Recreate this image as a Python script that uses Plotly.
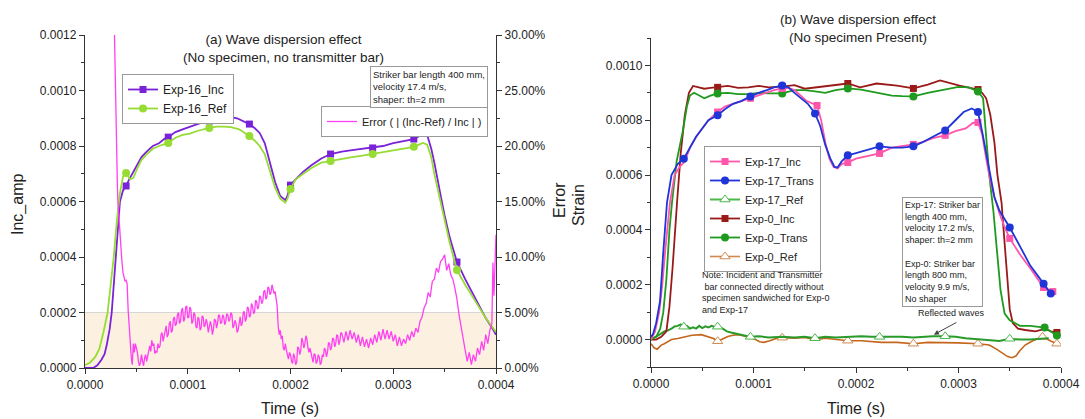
import plotly.graph_objects as go

US = 1e-6  # time values below are in microseconds

# ---------------- Panel (a) data ----------------
inc16 = [(0, 0), (8, 0), (12, 0.00001), (16, 0.00003), (19, 0.00005), (21, 0.00008), (24, 0.00014),
         (26, 0.0002), (28, 0.0003), (30, 0.0004), (32, 0.0005), (34, 0.0006), (37, 0.00064),
         (40, 0.000656), (43, 0.00068), (46, 0.0007), (50, 0.00073), (55, 0.00076), (60, 0.00078),
         (66, 0.0008), (72, 0.00081), (77, 0.000825), (81, 0.000832), (88, 0.00085), (95, 0.00086),
         (102, 0.00087), (110, 0.00088), (115, 0.000885), (121, 0.00089), (128, 0.000895),
         (135, 0.0009), (141, 0.000905), (148, 0.0009), (155, 0.000888), (160, 0.000879),
         (165, 0.000865), (170, 0.000847), (175, 0.00081), (180, 0.00074), (185, 0.00067),
         (190, 0.00062), (195, 0.000605), (197, 0.00062), (200, 0.000659), (205, 0.00068),
         (212, 0.000706), (220, 0.00073), (230, 0.000755), (239, 0.000771), (250, 0.00078),
         (260, 0.000785), (270, 0.00079), (280, 0.000793), (290, 0.0008), (300, 0.00081),
         (310, 0.000818), (320, 0.000825), (325, 0.000835), (329, 0.000843), (333, 0.00084),
         (337, 0.00079), (340, 0.00074), (344, 0.00067), (347, 0.000605), (350, 0.00055),
         (355, 0.00047), (362, 0.000382), (370, 0.00032), (380, 0.00025), (390, 0.00018),
         (397, 0.00014), (400, 0.00012)]
inc16_markers = [40, 81, 121, 160, 200, 239, 280, 320, 362]

ref16 = [(0, 0.00001), (5, 0.00002), (10, 0.00004), (14, 0.00007), (18, 0.00013), (22, 0.0002),
         (25, 0.0003), (28, 0.0004), (31, 0.00053), (34, 0.00063), (37, 0.00069), (40, 0.000703),
         (44, 0.00068), (47, 0.000685), (51, 0.00072), (55, 0.00075), (60, 0.00077), (66, 0.00079),
         (72, 0.0008), (81, 0.000811), (88, 0.00083), (95, 0.00084), (102, 0.000845),
         (110, 0.000855), (121, 0.000865), (128, 0.00087), (135, 0.00087), (142, 0.000868),
         (150, 0.00086), (160, 0.000836), (165, 0.00082), (170, 0.0008), (175, 0.00077),
         (180, 0.00071), (185, 0.00065), (190, 0.00061), (195, 0.000596), (197, 0.00061),
         (200, 0.000645), (205, 0.00068), (212, 0.0007), (220, 0.00072), (230, 0.00074),
         (239, 0.000746), (250, 0.000755), (260, 0.00076), (270, 0.000765), (280, 0.000771),
         (290, 0.000778), (300, 0.000785), (310, 0.00079), (320, 0.000797), (325, 0.000805),
         (329, 0.000811), (333, 0.000805), (337, 0.00076), (340, 0.0007), (344, 0.00063),
         (347, 0.00058), (350, 0.00053), (355, 0.00045), (362, 0.000353), (370, 0.0003),
         (380, 0.00024), (390, 0.00018), (400, 0.00013)]
ref16_markers = [40, 81, 121, 160, 200, 239, 280, 320, 362]

# Error ( | (Inc-Ref) / Inc | ), percent
error16 = [(28.5, 31), (29, 28), (29.5, 25), (30, 22), (30.5, 20), (31, 18), (31.5, 16.5), (32, 15),
           (33, 13.5), (34, 12), (35, 10.5), (36, 9.5), (37, 8.6), (38, 8.2), (39, 7.8), (40, 7.9),
           (41, 7.6), (42, 5.2), (43, 3.5), (44, 2), (45, 1), (46, 0.3), (47, 2.2), (48, 1.4),
           (49, 2.2), (50, 1.8), (51, 1.4), (52, 0.6), (53, 0.2), (54, 0.5), (55, 1.2), (56, 0.6),
           (57, 0.2), (58, 0.9), (59, 1.2), (60, 0.6), (61, 1.0), (62, 1.6), (63, 2.0), (64, 1.5),
           (65, 2.5), (66, 2.0), (67, 2.2), (68, 1.3), (69, 1.5), (70, 1.4), (71, 2.2), (72, 1.8),
           (73, 2.0), (74, 3.0), (75, 3.2), (76, 2.4), (77, 2.8), (78, 3.4), (79, 3.8), (80, 2.8),
           (81, 3.0), (82, 4.0), (83, 4.2), (84, 3.2), (85, 3.4), (86, 4.4), (87, 4.6), (88, 3.8),
           (89, 4.0), (90, 4.8), (91, 5.0), (92, 4.0), (93, 4.2), (94, 5.2), (95, 5.4), (96, 4.2),
           (97, 4.4), (98, 5.5), (99, 5.6), (100, 4.5), (101, 4.6), (102, 5.5), (103, 5.3),
           (104, 4.0), (105, 4.2), (106, 5.0), (107, 4.8), (108, 3.7), (109, 3.6), (110, 4.6),
           (111, 4.4), (112, 3.4), (113, 3.6), (114, 4.7), (115, 4.6), (116, 3.7), (117, 3.9),
           (118, 4.4), (119, 4.0), (120, 3.2), (121, 3.6), (122, 4.2), (123, 3.8), (124, 3.0),
           (125, 3.5), (126, 4.4), (127, 4.3), (128, 3.6), (129, 4.0), (130, 4.8), (131, 4.7),
           (132, 4.0), (133, 4.1), (134, 4.8), (135, 4.6), (136, 3.9), (137, 4.2), (138, 4.9),
           (139, 4.8), (140, 4.2), (141, 4.4), (142, 5.0), (143, 4.8), (144, 3.6), (145, 3.8),
           (146, 4.3), (147, 4.0), (148, 3.2), (149, 3.4), (150, 4.3), (151, 4.6), (152, 3.8),
           (153, 4.0), (154, 5.0), (155, 5.1), (156, 4.2), (157, 4.4), (158, 5.5), (159, 5.4),
           (160, 4.6), (161, 4.7), (162, 5.8), (163, 5.6), (164, 4.9), (165, 5.0), (166, 6.1),
           (167, 6.0), (168, 5.3), (169, 5.5), (170, 6.5), (171, 6.4), (172, 5.8), (173, 6.0),
           (174, 6.9), (175, 7.0), (176, 6.2), (177, 6.4), (178, 7.3), (179, 7.2), (180, 6.6),
           (181, 6.8), (182, 7.5), (183, 7.2), (184, 6.7), (185, 6.9), (186, 6.4), (187, 5.6),
           (188, 3.8), (189, 3.0), (190, 3.4), (191, 2.6), (192, 2.9), (193, 1.8), (194, 1.6),
           (195, 2.2), (196, 1.6), (197, 1.0), (198, 0.8), (199, 1.4), (200, 1.2), (201, 0.6),
           (202, 0.4), (203, 1.3), (204, 1.0), (205, 0.3), (206, 0.5), (207, 1.9), (208, 1.8),
           (209, 1.2), (210, 1.6), (211, 2.7), (212, 2.4), (213, 1.8), (214, 2.2), (215, 2.9),
           (216, 2.6), (217, 1.8), (218, 1.4), (219, 1.8), (220, 1.4), (221, 0.8), (222, 0.5),
           (223, 1.3), (224, 1.2), (225, 0.4), (226, 0.6), (227, 1.2), (228, 1.0), (229, 0.3),
           (230, 0.5), (231, 1.2), (232, 1.0), (233, 1.8), (234, 1.6), (235, 1.0), (236, 1.4),
           (237, 2.3), (238, 2.2), (239, 1.6), (240, 1.9), (241, 2.7), (242, 2.6), (243, 1.9),
           (244, 2.2), (245, 3.0), (246, 2.9), (247, 2.1), (248, 2.4), (249, 3.2), (250, 3.1),
           (252, 2.3), (254, 3.3), (256, 2.5), (258, 3.4), (260, 2.6), (262, 3.2), (264, 2.3),
           (266, 3.0), (268, 2.0), (270, 2.8), (272, 1.9), (274, 2.6), (276, 1.8), (278, 2.7),
           (280, 2.1), (282, 3.0), (284, 2.3), (286, 3.3), (288, 2.5), (290, 3.5), (292, 2.6),
           (294, 3.4), (296, 2.6), (298, 3.3), (300, 2.4), (302, 3.0), (304, 2.0), (306, 2.8),
           (308, 2.0), (310, 2.6), (312, 2.2), (314, 3.0), (316, 2.5), (318, 3.3), (320, 2.8),
           (322, 3.6), (324, 3.2), (326, 4.2), (328, 4.6), (330, 5.4), (332, 5.8), (334, 6.8),
           (336, 6.4), (338, 7.8), (340, 8.0), (342, 9.0), (344, 8.6), (346, 9.6), (348, 9.8),
           (350, 10.2), (352, 8.8), (354, 9.4), (356, 8.4), (358, 8.0), (360, 7.2), (362, 6.2),
           (364, 4.8), (366, 3.6), (368, 2.6), (370, 1.6), (372, 0.6), (374, 1.4), (376, 0.3),
           (378, 1.2), (380, 0.6), (382, 1.8), (384, 1.2), (386, 2.4), (388, 1.6), (390, 3.0),
           (392, 2.2), (394, 3.4), (396, 4.0), (397, 9.5), (398, 6.5), (399, 10.5), (400, 12)]

# ---------------- Panel (b) data ----------------
inc17 = [(0, 0.0), (4, 0.00003), (8, 0.0001), (11, 0.0002), (14, 0.00033), (18.5, 0.0005),
         (23, 0.0006), (28, 0.00063), (33, 0.00065), (38, 0.0007), (44, 0.00074), (50, 0.00077),
         (56, 0.0008), (65, 0.00083), (72, 0.00085), (80, 0.00086), (88, 0.00087), (97, 0.00088),
         (105, 0.00089), (113, 0.0009), (120, 0.00091), (128, 0.000916), (134, 0.000918),
         (140, 0.00091), (146, 0.00089), (152, 0.00087), (162, 0.000854), (166, 0.0008),
         (170, 0.00072), (174, 0.00066), (178, 0.00063), (182, 0.000624), (186, 0.00064),
         (192, 0.000646), (200, 0.00066), (210, 0.000668), (223, 0.000679), (235, 0.0007),
         (245, 0.000705), (256, 0.000712), (265, 0.00072), (275, 0.000735), (287, 0.000745),
         (297, 0.00076), (307, 0.00077), (314, 0.00079), (319, 0.000792), (323, 0.00075),
         (327, 0.00066), (331, 0.00058), (335, 0.00052), (340, 0.00046), (345, 0.00041),
         (350, 0.000369), (360, 0.00031), (370, 0.00026), (383, 0.00019), (392, 0.000175)]
inc17_markers = [65, 97, 128, 162, 192, 223, 256, 287, 319, 350, 383, 392]

trans17 = [(0, 0.00001), (2, 0.00002), (5, 0.00006), (8.8, 0.00014), (12, 0.00032), (15.6, 0.0005),
           (20, 0.0006), (26, 0.00064), (32, 0.00066), (38, 0.0007), (44, 0.00074), (50, 0.00077),
           (56, 0.0008), (65, 0.000818), (72, 0.00084), (80, 0.00086), (88, 0.00087),
           (97, 0.000887), (105, 0.0009), (113, 0.00091), (120, 0.00092), (128, 0.000927),
           (134, 0.00092), (140, 0.0009), (147, 0.00088), (153, 0.00086), (160, 0.000825),
           (165, 0.00078), (170, 0.00071), (175, 0.00066), (179, 0.00063), (182, 0.000628),
           (186, 0.00065), (192, 0.000672), (200, 0.00068), (210, 0.00069), (223, 0.000705),
           (235, 0.0007), (245, 0.0007), (256, 0.000705), (265, 0.00072), (275, 0.00074),
           (287, 0.000763), (297, 0.0008), (305, 0.00083), (313, 0.000843), (319, 0.00083),
           (323, 0.00076), (327, 0.00068), (331, 0.0006), (335, 0.00052), (340, 0.00047),
           (345, 0.00044), (350, 0.000409), (360, 0.00034), (370, 0.00027), (383, 0.000204),
           (390, 0.000168)]
trans17_markers = [32, 65, 97, 128, 160, 192, 223, 256, 287, 319, 350, 383, 390]

ref17 = [(0, 0.0), (5, 0.00001), (9, 0.00002), (13, 0.00003), (16, 0.000033), (20, 0.00004),
         (23, 0.000048), (26, 0.00005), (29, 0.000055), (32, 0.000047), (35, 0.00005),
         (38, 0.00004), (41, 0.000045), (44, 0.00004), (47, 0.00005), (50, 0.000042),
         (53, 0.000048), (56, 0.000044), (59, 0.00005), (62, 0.000046), (65, 0.000047),
         (70, 0.00004), (74, 0.00003), (78, 0.000026), (84, 0.00002), (91, 0.000015),
         (97, 0.00001), (105, 0.000012), (115, 0.000008), (128, 0.00001), (140, 0.000008),
         (150, 0.00001), (160, 0.000005), (170, 0.00001), (180, 0.000008), (192, 0.00001),
         (205, 0.000012), (215, 0.00001), (223, 0.00001), (235, 0.000012), (245, 0.00001),
         (256, 0.000008), (265, 0.00001), (275, 0.000012), (287, 0.000012), (297, 0.00001),
         (307, 0.000005), (319, 0.000002), (330, 0.0), (340, -0.000005), (350, 0.000003),
         (360, 0.0), (370, 0.0), (383, 0.000005), (388, 0.000005)]
ref17_markers = [32, 65, 97, 160, 223, 287, 350]

inc0 = [(0, 0.0), (5, 0.0), (10, 0.00001), (15, 0.00003), (18, 0.00012), (21, 0.00026),
        (25.4, 0.0005), (29, 0.00068), (33, 0.00082), (37, 0.0009), (41, 0.000925), (46, 0.00092),
        (52, 0.000915), (58, 0.000918), (65, 0.00092), (75, 0.000925), (85, 0.000918),
        (95, 0.00092), (105, 0.000925), (115, 0.00092), (128, 0.000923), (140, 0.000928),
        (150, 0.000915), (160, 0.00092), (175, 0.000925), (192, 0.000934), (204, 0.00092),
        (220, 0.000934), (240, 0.000926), (256, 0.000916), (270, 0.00093), (282, 0.000945),
        (301, 0.000926), (312, 0.000918), (319, 0.000912), (323, 0.0009), (327, 0.00088),
        (331, 0.00082), (335, 0.00072), (338, 0.0006), (342, 0.0005), (344, 0.0004),
        (347, 0.00026), (350, 0.00011), (353, 0.00006), (358, 0.00004), (365, 0.000035),
        (375, 0.00003), (385, 0.00004), (390, 0.00003), (396, 0.000026)]
inc0_markers = [65, 128, 192, 256, 319, 396]

trans0 = [(0, 0.0), (5, 0.00001), (9, 0.00004), (12, 0.0001), (15, 0.00022), (18, 0.0004),
          (20.5, 0.0005), (25, 0.00065), (31, 0.00076), (35, 0.00085), (38, 0.00089), (42, 0.0009),
          (47, 0.00089), (52, 0.00088), (58, 0.00089), (65, 0.000898), (75, 0.0009),
          (85, 0.000895), (95, 0.000895), (105, 0.0009), (115, 0.000898), (128, 0.000898),
          (140, 0.00091), (150, 0.00091), (160, 0.000905), (170, 0.0009), (180, 0.00091),
          (192, 0.000916), (205, 0.000912), (220, 0.0009), (235, 0.00089), (245, 0.000888),
          (256, 0.000887), (270, 0.0009), (285, 0.00091), (300, 0.000922), (310, 0.00092),
          (319, 0.000905), (324, 0.00088), (327, 0.00075), (330, 0.0006), (334, 0.00047),
          (338, 0.0003), (341, 0.00018), (345, 0.000095), (350, 0.00007), (360, 0.00005),
          (370, 0.00005), (384, 0.000044), (396, 0.000015)]
trans0_markers = [65, 128, 192, 256, 319, 384, 396]

ref0 = [(0, -0.000015), (3, -0.00003), (6, -0.000035), (10, -0.00002), (13, -0.000015),
        (20, 0.0), (26, 0.000004), (32, 0.00001), (40, 0.000016), (49, 0.000018), (55, 0.00001),
        (61, 0.000004), (65, -0.000006), (70, 0.000004), (75, 0.000011), (80, 0.000016),
        (85, 0.000018), (90, 0.000014), (96, 0.000008), (102, 0.0), (106, -0.000008),
        (110, -0.00001), (116, -0.000004), (124, 0.000007), (128, 0.000007), (140, 0.000005),
        (150, 0.000008), (160, 0.0), (170, 0.000005), (180, 0.0), (192, -0.000004),
        (205, -0.000004), (215, -0.000008), (225, -0.00001), (240, -0.00001), (256, -0.000015),
        (270, -0.00001), (285, -0.00001), (300, -0.000012), (319, -0.000015), (330, -0.00002),
        (337, -0.000035), (343, -0.00005), (348, -0.000062), (352, -0.000066), (356, -0.00006),
        (360, -0.00004), (365, -0.00002), (372, -0.000005), (382, 0.00001), (390, -0.000005),
        (396, -0.000015)]
ref0_markers = [65, 128, 192, 256, 319, 382, 396]

W, H = 1085, 419
FONT = "Arial, Liberation Sans, sans-serif"

fig = go.Figure()


def add_series(data, mk_times, name, color, symbol, xa, ya, legend, rank, msize=7,
               open_marker=False, width=1.8, marker_color=None):
    t = [p[0] for p in data]
    v = [p[1] for p in data]
    x = [ti * US for ti in t]
    fig.add_trace(go.Scatter(x=x, y=v, mode="lines", line=dict(color=color, width=width),
                             xaxis=xa, yaxis=ya, showlegend=False, hoverinfo="skip"))
    idx = [t.index(m) for m in mk_times]
    mcol = marker_color or color
    if open_marker:
        mk = dict(symbol=symbol, size=msize, color="white", line=dict(color=mcol, width=1))
    else:
        mk = dict(symbol=symbol, size=msize, color=mcol, line=dict(color=mcol, width=0))
    fig.add_trace(go.Scatter(x=[x[i] for i in idx], y=[v[i] for i in idx], mode="markers",
                             marker=mk, xaxis=xa, yaxis=ya, showlegend=False, hoverinfo="skip"))
    fig.add_trace(go.Scatter(x=[None], y=[None], mode="lines+markers", name=name,
                             line=dict(color=mcol, width=width), marker=mk,
                             xaxis=xa, yaxis=ya, legend=legend, legendrank=rank))


# Panel (a)
err_t = [p[0] * US for p in error16]
err_v = [p[1] for p in error16]
fig.add_trace(go.Scatter(x=err_t, y=err_v, mode="lines", name="Error ( | (Inc-Ref) / Inc | )",
                         line=dict(color="#ff40f2", width=1.3), xaxis="x", yaxis="y2",
                         legend="legend2", hoverinfo="skip"))
add_series(inc16, inc16_markers, "Exp-16_Inc", "#7a22d8", "square", "x", "y", "legend", 1, msize=7)
add_series(ref16, ref16_markers, "Exp-16_Ref", "#96dc34", "circle", "x", "y", "legend", 2, msize=8)

# Panel (b)
add_series(ref0, ref0_markers, "Exp-0_Ref", "#c4661c", "triangle-up", "x2", "y3", "legend3", 6,
           msize=9, open_marker=True, width=1.6, marker_color="#d08a50")
add_series(ref17, ref17_markers, "Exp-17_Ref", "#2a9a2a", "triangle-up", "x2", "y3", "legend3", 3,
           msize=9, open_marker=True, width=2.0, marker_color="#4cb84c")
add_series(inc0, inc0_markers, "Exp-0_Inc", "#9a1a1a", "square", "x2", "y3", "legend3", 4, msize=7)
add_series(trans0, trans0_markers, "Exp-0_Trans", "#1e9a1e", "circle", "x2", "y3", "legend3", 5,
           msize=8)
add_series(inc17, inc17_markers, "Exp-17_Inc", "#ff55aa", "square", "x2", "y3", "legend3", 1,
           msize=7)
add_series(trans17, trans17_markers, "Exp-17_Trans", "#1f35d8", "circle", "x2", "y3", "legend3", 2,
           msize=8)

axis_common = dict(showline=True, linecolor="#333", linewidth=1.3, ticks="outside", ticklen=5,
                   tickwidth=1.2, tickcolor="#333", showgrid=False, zeroline=False,
                   automargin=False,
                   tickfont=dict(size=12, color="#222", family=FONT),
                   minor=dict(ticks="outside", ticklen=3, tickcolor="#333", tickwidth=1))

fig.update_layout(
    width=W, height=H, margin=dict(l=0, r=0, t=0, b=0, autoexpand=False),
    paper_bgcolor="white", plot_bgcolor="rgba(0,0,0,0)",
    font=dict(family=FONT, color="#222"),
    xaxis=dict(domain=[85 / W, 496 / W], anchor="y", range=[0, 0.0004], dtick=0.0001,
               tickformat=".4f", **{**axis_common, "minor": dict(axis_common["minor"], dtick=0.00005)}),
    yaxis=dict(domain=[1 - 368 / H, 1 - 35 / H], anchor="x", range=[0, 0.0012], dtick=0.0002,
               tickformat=".4f", **{**axis_common, "minor": dict(axis_common["minor"], dtick=0.0001)}),
    yaxis2=dict(overlaying="y", side="right", anchor="x", range=[0, 30], dtick=5,
                tickformat=".2f", ticksuffix="%",
                **{**axis_common, "minor": dict(axis_common["minor"], dtick=2.5)}),
    xaxis2=dict(domain=[651 / W, 1061 / W], anchor="y3", range=[0, 0.0004], dtick=0.0001,
                tickformat=".4f", **{**axis_common, "minor": dict(axis_common["minor"], dtick=0.00005)}),
    yaxis3=dict(domain=[1 - 367 / H, 1 - 38 / H], anchor="x2", range=[-0.0001, 0.0011],
                tick0=0, dtick=0.0002, tickformat=".4f",
                **{**axis_common, "minor": dict(axis_common["minor"], tick0=0.0001, dtick=0.0002)}),
    legend=dict(x=122 / W, y=1 - 74 / H, xanchor="left", yanchor="top", bgcolor="white",
                bordercolor="#999", borderwidth=1, font=dict(size=12, family=FONT, color="#222"),
                tracegroupgap=0, traceorder="normal"),
    legend2=dict(x=488 / W, y=1 - 106 / H, xanchor="right", yanchor="top", bgcolor="white",
                 bordercolor="#999", borderwidth=1, font=dict(size=11, family=FONT, color="#222")),
    legend3=dict(x=704 / W, y=1 - 146 / H, xanchor="left", yanchor="top", bgcolor="white",
                 bordercolor="#999", borderwidth=1, font=dict(size=11, family=FONT, color="#222"),
                 traceorder="normal"),
)

# Shaded 0-5% band on error axis
fig.add_shape(type="rect", xref="x domain", yref="y2", x0=0, x1=1, y0=0, y1=5,
              fillcolor="#fcf1e1", line=dict(width=0), layer="below")
fig.add_shape(type="line", xref="x domain", yref="y2", x0=0, x1=1, y0=5, y1=5,
              line=dict(color="#d6d6d6", width=1.2), layer="below")


def ann(text, x, y, size, xanchor="center", yanchor="middle", align="center", angle=0, **kw):
    fig.add_annotation(text=text, x=x / W, y=1 - y / H, xref="paper", yref="paper",
                       xanchor=xanchor, yanchor=yanchor, align=align, textangle=angle,
                       showarrow=False, font=dict(size=size, family=FONT, color="#222"), **kw)


ann("(a) Wave dispersion effect<br>(No specimen, no transmitter bar)", 283, 48, 13.5)
ann("(b) Wave dispersion effect<br>(No specimen Present)", 858, 28, 13.5)
ann("Inc_amp", 18, 205, 16, angle=-90)
ann("Error", 560, 200, 16, angle=-90)
ann("Strain", 578, 205, 16, angle=-90)
ann("Time (s)", 290, 408, 16)
ann("Time (s)", 856, 408, 16)
ann("Striker bar length 400 mm,<br>velocity 17.4 m/s,<br>shaper: th=2 mm", 370, 66, 9.5,
    xanchor="left", yanchor="top", align="left", bordercolor="#999", borderwidth=1,
    borderpad=2, bgcolor="white")
ann("Note: Incident and Transmitter<br>&nbsp;bar connected directly without<br>"
    "specimen sandwiched for Exp-0<br>and Exp-17", 700, 268, 9,
    xanchor="left", yanchor="top", align="left")
ann("Exp-17: Striker bar<br>length 400 mm,<br>velocity 17.2 m/s,<br>shaper: th=2 mm<br> <br>"
    "Exp-0: Striker bar<br>length 800 mm,<br>velocity 9.9 m/s,<br>No shaper", 902, 197, 9,
    xanchor="left", yanchor="top", align="left", bordercolor="#999", borderwidth=1,
    borderpad=2, bgcolor="white")
ann("Reflected waves", 951, 313, 9)

# arrow for "Reflected waves", head on the reflected-wave curve
fig.add_annotation(x=276 * US, y=0.000018, xref="x2", yref="y3", text="", showarrow=True,
                   ax=24, ay=-13, axref="pixel", ayref="pixel", arrowhead=2, arrowsize=1,
                   arrowwidth=1, arrowcolor="#444")

fig.write_html("out.html")
